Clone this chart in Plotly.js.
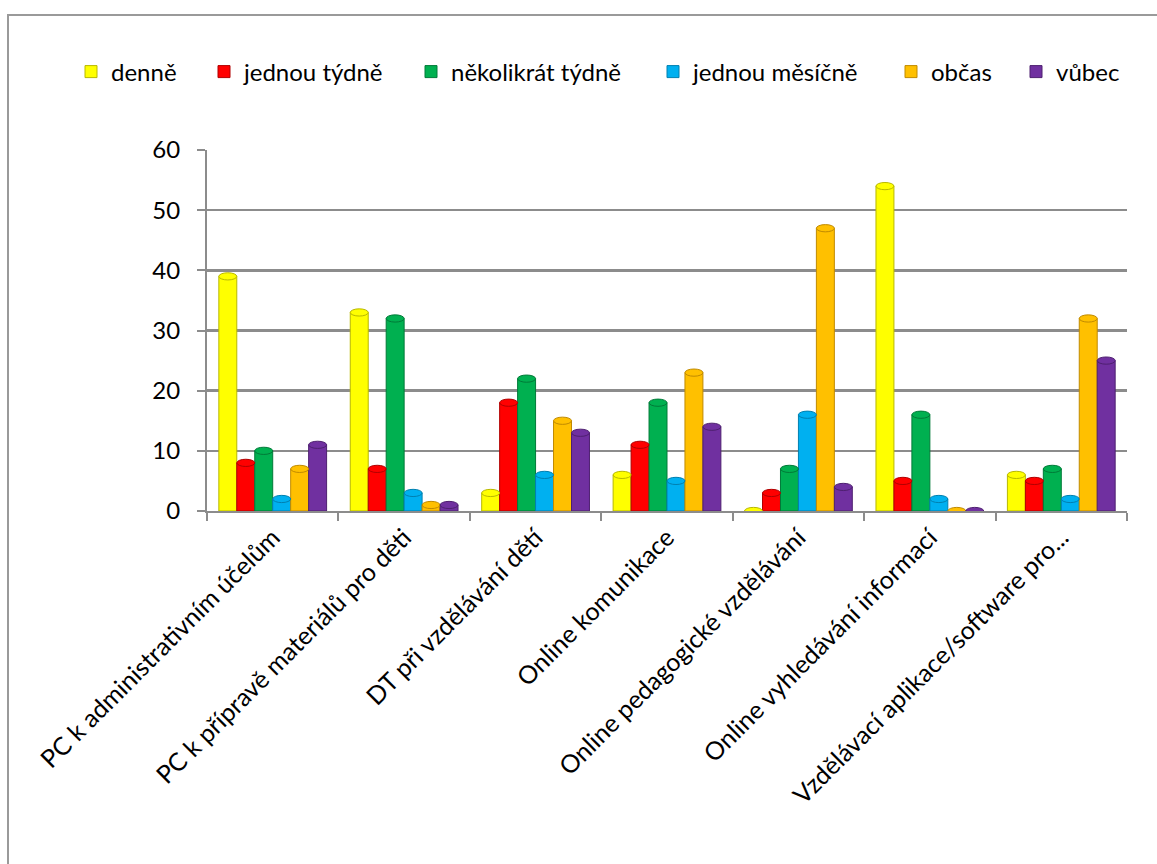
<!DOCTYPE html>
<html>
<head>
<meta charset="utf-8">
<script src="https://cdn.plot.ly/plotly-3.0.1.min.js"></script>
<style>
  html, body { margin: 0; padding: 0; background: #fff; }
  #wrap { position: relative; width: 1157px; height: 864px; overflow: hidden; }
  #frame { position: absolute; left: 7px; top: 14px; width: 1200px; height: 900px;
           border-left: 2px solid #9a9a9a; border-top: 2px solid #9a9a9a; box-sizing: border-box; }
  #chart { position: absolute; left: 0; top: 0; width: 1157px; height: 864px; }
</style>
</head>
<body>
<div id="wrap">
  <div id="frame"></div>
  <div id="chart"></div>
</div>
<script>
// Activities (categories on the x axis)
const categories = [
  "PC k administrativním účelům",
  "PC k přípravě materiálů pro děti",
  "DT při vzdělávání dětí",
  "Online komunikace",
  "Online pedagogické vzdělávání",
  "Online vyhledávání informací",
  "Vzdělávací aplikace/software pro..."
];

// Frequency series
const seriesNames = ["denně", "jednou týdně", "několikrát týdně", "jednou měsíčně", "občas", "vůbec"];
const denne           = [39, 33,  3,  6,  0, 54,  6];
const jednouTydne     = [ 8,  7, 18, 11,  3,  5,  5];
const nekolikratTydne = [10, 32, 22, 18,  7, 16,  7];
const jednouMesicne   = [ 2,  3,  6,  5, 16,  2,  2];
const obcas           = [ 7,  1, 15, 23, 47,  0, 32];
const vubec           = [11,  1, 13, 14,  4,  0, 25];

const yTickValues = [0, 10, 20, 30, 40, 50, 60];

const seriesValues = [denne, jednouTydne, nekolikratTydne, jednouMesicne, obcas, vubec];
const fillColors = ["#FFFF00", "#FF0000", "#00B050", "#00B0F0", "#FFC000", "#7030A0"];
const edgeColors = ["#B8B800", "#B00000", "#007A38", "#0080B0", "#C08A00", "#4E2070"];

const BARGAP = 0.18;
const nSeries = seriesNames.length;
const barW = (1 - BARGAP) / nSeries;

const font = "Lato, 'Open Sans', sans-serif";

// one legend box per series, laid out in a single row across the top
const legendIds = ["legend", "legend2", "legend3", "legend4", "legend5", "legend6"];
const legendLeftPx = [71, 204, 411, 653, 891, 1016];

const traces = seriesNames.map((name, i) => ({
  type: "bar",
  name: name,
  legend: legendIds[i],
  x: categories,
  y: seriesValues[i],
  marker: { color: fillColors[i], line: { color: edgeColors[i], width: 1 } },
  hoverinfo: "x+y"
}));

// Elliptic caps on top of each cylinder, placed from the same values
const capHalf = 0.6;
const shapes = [];
seriesValues.forEach((vals, i) => {
  vals.forEach((v, c) => {
    const center = c - (1 - BARGAP) / 2 + (i + 0.5) * barW;
    shapes.push({
      type: "circle", xref: "x", yref: "y", layer: "above",
      x0: center - barW / 2, x1: center + barW / 2,
      y0: v - capHalf, y1: v + capHalf,
      fillcolor: fillColors[i],
      line: { color: edgeColors[i], width: 1 }
    });
  });
});

const layout = {
  width: 1157, height: 864,
  paper_bgcolor: "rgba(0,0,0,0)",
  plot_bgcolor: "rgba(0,0,0,0)",
  margin: { l: 207, r: 30, t: 150, b: 353 },
  barmode: "group",
  bargap: BARGAP,
  bargroupgap: 0,
  showlegend: true,
  xaxis: {
    type: "category",
    tickangle: -45,
    tickfont: { family: font, size: 25, color: "#000" },
    showline: true, linecolor: "#8c8c8c", linewidth: 2,
    ticks: "outside", tickson: "boundaries", ticklen: 8, tickcolor: "#8c8c8c", tickwidth: 2,
    showgrid: false, fixedrange: true
  },
  yaxis: {
    range: [0, 60],
    tickvals: yTickValues,
    tickfont: { family: font, size: 24, color: "#000" },
    ticklabelstandoff: 12,
    showline: true, linecolor: "#8c8c8c", linewidth: 2,
    ticks: "outside", ticklen: 8, tickcolor: "#8c8c8c", tickwidth: 2,
    showgrid: true, gridcolor: "#8c8c8c", gridwidth: 2.5,
    zeroline: false, fixedrange: true
  },
  shapes: shapes
};

legendIds.forEach((id, i) => {
  layout[id] = {
    orientation: "h", xref: "container", yref: "container",
    x: legendLeftPx[i] / 1157, xanchor: "left",
    y: 1 - 72 / 864, yanchor: "middle",
    font: { family: font, size: 24, color: "#000" },
    itemwidth: 30, bgcolor: "rgba(0,0,0,0)"
  };
});

Plotly.newPlot("chart", traces, layout, { displayModeBar: false, staticPlot: true });
</script>
</body>
</html>
